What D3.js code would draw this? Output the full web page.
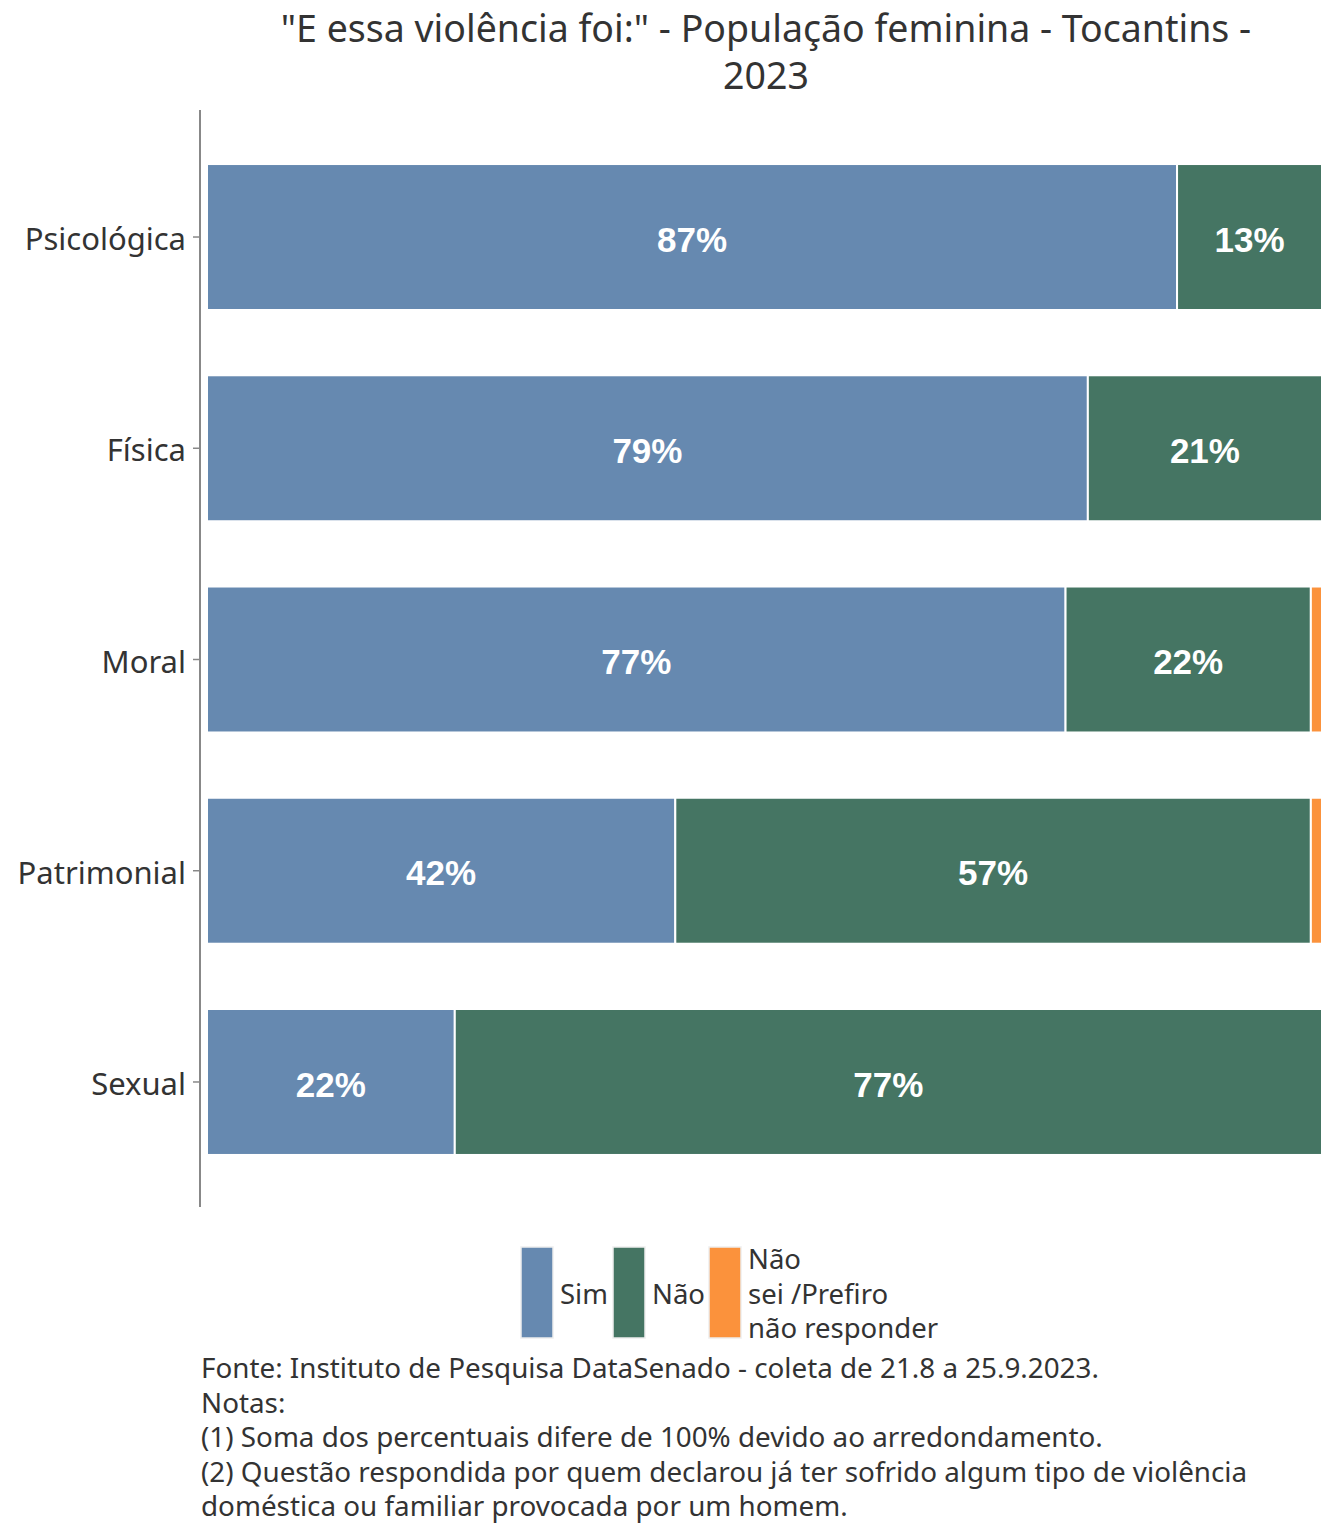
<!DOCTYPE html>
<html>
<head>
<meta charset="utf-8">
<script src="https://cdn.jsdelivr.net/npm/d3@7"></script>
<style>
  body { margin: 0; background: #fff; }
  text { font-family: "Noto Sans", sans-serif; }
</style>
</head>
<body>
<svg id="chart" width="1344" height="1536"></svg>
<script>
// data
var categories = ["Psicológica", "Física", "Moral", "Patrimonial", "Sexual"];
var seriesNames = ["Sim", "Não", "Não sei /Prefiro não responder"];
var sim = [87, 79, 77, 42, 22];
var nao = [13, 21, 22, 57, 77];
var naoSei = [0, 0, 1, 1, 0];
var legendLines = [["Sim"], ["Não"], ["Não", "sei /Prefiro", "não responder"]];
var titleLines = ["\"E essa violência foi:\" - População feminina - Tocantins -", "2023"];
var footLines = [
  "Fonte: Instituto de Pesquisa DataSenado - coleta de 21.8 a 25.9.2023.",
  "Notas:",
  "(1) Soma dos percentuais difere de 100% devido ao arredondamento.",
  "(2) Questão respondida por quem declarou já ter sofrido algum tipo de violência",
  "doméstica ou familiar provocada por um homem."
];

var colors = ["#6689b0", "#457563", "#fb923c"];

var svg = d3.select("#chart");

// rows, normalised like a filled stack
var rows = categories.map(function(c, i) {
  var vals = [sim[i], nao[i], naoSei[i]];
  var total = d3.sum(vals);
  var start = 0;
  var segs = vals.map(function(v, k) {
    var s = { cat: c, key: k, value: v, x0: start / total, x1: (start + v) / total };
    start += v;
    return s;
  });
  return segs;
});

var x = d3.scaleLinear().domain([0, 1]).range([207, 1322]);
var y = d3.scaleBand()
  .domain(categories)
  .range([131.4, 1187.6])
  .paddingInner(0.309)
  .paddingOuter(0.1545);

// title
svg.append("g").selectAll("text")
  .data(titleLines)
  .enter().append("text")
  .attr("x", 766)
  .attr("y", function(d, i) { return 42 + i * 47; })
  .attr("text-anchor", "middle")
  .attr("font-size", 37.5)
  .attr("fill", "#333")
  .text(function(d) { return d; });

// bars
var segs = [].concat.apply([], rows).filter(function(d) { return d.value > 0; });

svg.append("g").selectAll("rect")
  .data(segs)
  .enter().append("rect")
  .attr("x", function(d) { return x(d.x0); })
  .attr("width", function(d) { return x(d.x1) - x(d.x0); })
  .attr("y", function(d) { return y(d.cat); })
  .attr("height", y.bandwidth())
  .attr("fill", function(d) { return colors[d.key]; })
  .attr("stroke", "#fff")
  .attr("stroke-width", 2);

svg.append("g").selectAll("text")
  .data(segs.filter(function(d) { return d.key < 2; }))
  .enter().append("text")
  .attr("x", function(d) { return (x(d.x0) + x(d.x1)) / 2; })
  .attr("y", function(d) { return y(d.cat) + y.bandwidth() / 2 + 2; })
  .attr("dy", "0.36em")
  .attr("text-anchor", "middle")
  .attr("font-weight", "bold")
  .attr("font-size", 35)
  .attr("fill", "#fff")
  .style("font-family", "'Liberation Sans', Arial, sans-serif")
  .text(function(d) { return d.value + "%"; });

// y axis
var yAxis = svg.append("g")
  .attr("transform", "translate(200,0)")
  .call(d3.axisLeft(y).tickSize(7).tickPadding(7));
yAxis.select(".domain").remove();
yAxis.selectAll(".tick line").attr("stroke", "#888").attr("stroke-width", 1.5);
yAxis.selectAll(".tick text")
  .attr("font-size", 31)
  .attr("dy", "0.42em")
  .attr("fill", "#333")
  .style("font-family", "'Noto Sans', sans-serif");
svg.append("line")
  .attr("x1", 200).attr("x2", 200)
  .attr("y1", 110).attr("y2", 1207)
  .attr("stroke", "#888").attr("stroke-width", 2);

// legend
var legendX = [521, 613, 709];
var legend = svg.append("g").selectAll("g")
  .data(seriesNames)
  .enter().append("g");

legend.append("rect")
  .attr("x", function(d, i) { return legendX[i]; })
  .attr("y", 1247)
  .attr("width", 32)
  .attr("height", 91)
  .attr("fill", function(d, i) { return colors[i]; })
  .attr("stroke", "#eee")
  .attr("stroke-width", 1.5);

legend.each(function(d, i) {
  var lines = legendLines[i];
  var g = d3.select(this);
  var mid = 1294;
  g.selectAll("text")
    .data(lines)
    .enter().append("text")
    .attr("x", legendX[i] + 39)
    .attr("y", function(t, j) { return mid + (j - (lines.length - 1) / 2) * 34.5; })
    .attr("dy", "0.36em")
    .attr("font-size", 27.5)
    .attr("fill", "#333")
    .text(function(t) { return t; });
});

// footer notes
svg.append("g").selectAll("text")
  .data(footLines)
  .enter().append("text")
  .attr("x", 201)
  .attr("y", function(d, i) { return 1378 + i * 34.5; })
  .attr("font-size", 27.8)
  .attr("fill", "#333")
  .text(function(d) { return d; });
</script>
</body>
</html>
